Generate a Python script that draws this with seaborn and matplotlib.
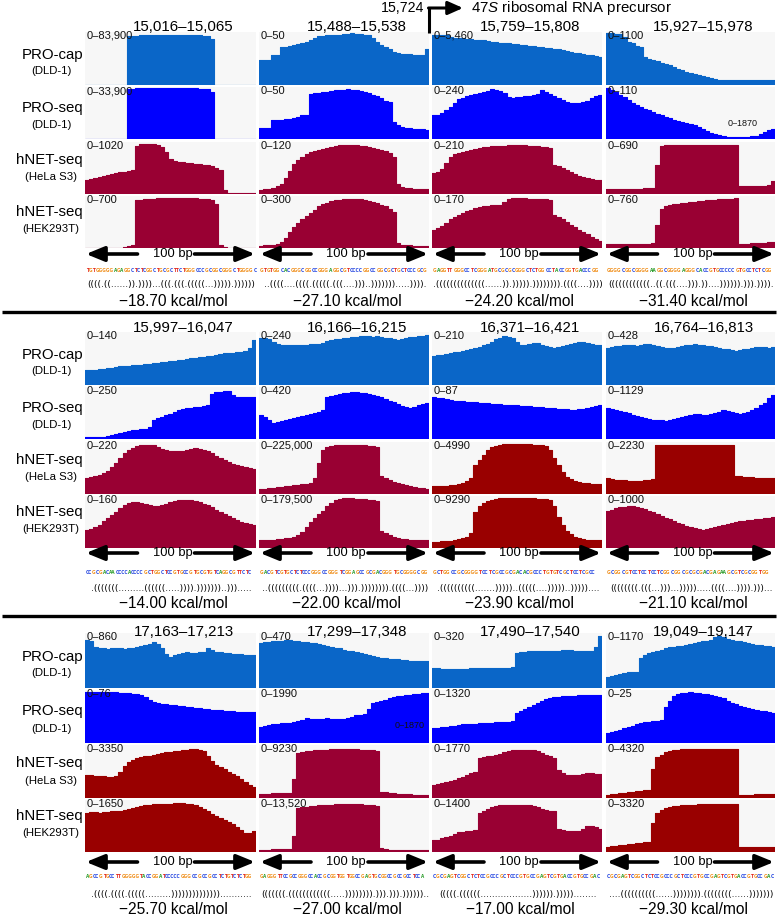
import itertools
import numpy as np
import pandas as pd
import matplotlib
matplotlib.use("Agg")
import matplotlib.pyplot as plt
from matplotlib import font_manager as fm
import seaborn as sns

# ---------------- data (normalised coverage, 41 bins per window) ----------------
P1C1_CAP = [0,0,0,0,0,0,0,0,0,0,.92,.93,.93,.94,.94,.94,.94,.95,.95,.95,.95,.95,.95,.95,.95,.95,.94,.94,.93,.92,.86,0,0,0,0,0,0,0,0,0,0]
P1C1_SEQ = [0,0,0,0,0,0,0,0,0,0,.96,.97,.98,.98,.98,.98,.98,.98,.98,.98,.98,.98,.98,.98,.98,.98,.98,.97,.97,.96,.90,0,0,0,0,0,0,0,0,0,0]
P1C1_HELA = [.26,.28,.30,.32,.34,.36,.38,.40,.42,.43,.44,.46,.93,.96,.96,.96,.96,.95,.90,.80,.68,.64,.62,.61,.60,.59,.58,.57,.56,.55,.53,.50,.46,.08,.02,.02,.02,.02,.02,.02,.02]
P1C1_HEK = [0,0,0,0,0,0,0,0,0,.01,.03,.06,.92,.93,.94,.95,.95,.96,.96,.96,.96,.96,.96,.96,.96,.96,.96,.95,.95,.94,.92,.85,.05,.01,0,0,0,0,0,0,0]

P1C2_CAP = [.47,.47,.47,.57,.57,.72,.72,.74,.76,.78,.80,.82,.85,.88,.92,.93,.94,.94,.95,.95,.96,.97,.98,.97,.96,.95,.94,.88,.81,.76,.72,.68,.62,.60,.59,.58,.58,.57,.57,.56,.68]
P1C2_SEQ = [.22,.22,.22,.36,.37,.37,.38,.38,.40,.42,.46,.47,.86,.88,.89,.90,.91,.92,.94,.95,.95,.96,.95,.94,.93,.91,.88,.85,.82,.78,.74,.72,.32,.27,.24,.22,.21,.20,.19,.19,.18]
P1C2_HELA = [.08,.09,.10,.12,.15,.20,.30,.45,.58,.65,.72,.76,.80,.82,.85,.87,.89,.91,.92,.94,.95,.95,.95,.94,.93,.92,.90,.88,.86,.84,.82,.78,.72,.20,.14,.12,.11,.10,.10,.09,.09]
P1C2_HEK = [.04,.05,.05,.06,.08,.12,.20,.30,.40,.48,.55,.62,.68,.74,.80,.84,.87,.90,.92,.93,.94,.95,.95,.95,.94,.93,.91,.89,.86,.83,.80,.75,.70,.10,.06,.05,.05,.04,.04,.04,.04]

P1C3_CAP = [.94,.94,.94,.94,.90,.89,.88,.88,.87,.86,.85,.84,.84,.83,.82,.81,.80,.80,.79,.78,.77,.76,.75,.74,.73,.72,.71,.70,.69,.68,.67,.66,.64,.63,.61,.60,.58,.57,.56,.55,.53]
P1C3_SEQ = [.46,.47,.50,.55,.62,.70,.76,.79,.82,.84,.86,.88,.90,.93,.96,.94,.92,.88,.80,.79,.80,.81,.82,.83,.84,.86,.94,.90,.86,.82,.78,.75,.72,.70,.69,.70,.72,.74,.78,.82,.85]
P1C3_HELA = [.40,.42,.48,.60,.72,.76,.78,.80,.82,.85,.87,.88,.90,.91,.92,.92,.93,.93,.94,.95,.95,.94,.94,.93,.92,.92,.91,.90,.88,.56,.54,.50,.46,.42,.38,.35,.33,.31,.29,.27,.26]
P1C3_HEK = [.35,.38,.42,.48,.55,.60,.64,.68,.71,.74,.76,.78,.80,.81,.82,.83,.82,.88,.94,.96,.96,.96,.96,.95,.95,.95,.94,.94,.93,.63,.60,.55,.50,.45,.40,.35,.30,.26,.22,.18,.14]

P1C4_CAP = [.98,.98,.97,.97,.90,.81,.80,.74,.72,.52,.50,.48,.45,.42,.40,.37,.34,.31,.28,.25,.23,.21,.19,.17,.15,.13,.11,.10,.10,.09,.09,.09,.09,.09,.09,.09,.09,.09,.09,.09,.09]
P1C4_SEQ = [.98,.95,.90,.85,.80,.75,.70,.66,.62,.58,.55,.52,.49,.46,.43,.40,.37,.34,.32,.30,.28,.26,.23,.20,.16,.12,.09,.07,.05,.04,.04,.04,.04,.04,.04,.05,.06,.10,.14,.18,.20]
P1C4_HELA = [.10,.10,.10,.10,.10,.10,.10,.10,.10,.11,.12,.12,.55,.93,.94,.95,.95,.95,.95,.95,.95,.95,.95,.95,.95,.95,.95,.95,.95,.95,.95,.95,.16,.15,.15,.15,.15,.15,.16,.18,.25]
P1C4_HEK = [.08,.08,.08,.08,.08,.08,.08,.08,.08,.08,.08,.09,.45,.75,.80,.82,.84,.85,.86,.87,.88,.89,.90,.91,.92,.93,.93,.94,.94,.95,.95,.96,.08,.08,.08,.09,.09,.10,.10,.11,.12]

P2C1_CAP = [.28,.28,.29,.30,.31,.32,.33,.34,.35,.35,.36,.37,.37,.38,.39,.40,.41,.42,.43,.44,.45,.46,.47,.48,.49,.50,.51,.52,.53,.54,.55,.56,.58,.60,.61,.61,.62,.63,.64,.70,.85]
P2C1_SEQ = [.03,.03,.03,.03,.03,.05,.07,.09,.11,.13,.15,.17,.18,.19,.20,.24,.37,.40,.43,.46,.49,.52,.55,.57,.59,.60,.61,.62,.63,.65,.86,.90,.91,.92,.92,.85,.80,.80,.80,.80,.80]
P2C1_HELA = [.30,.32,.34,.36,.40,.45,.52,.60,.70,.78,.84,.88,.92,.94,.95,.95,.94,.90,.86,.84,.83,.82,.82,.83,.85,.87,.88,.87,.85,.82,.78,.74,.70,.66,.62,.58,.55,.53,.51,.50,.48]
P2C1_HEK = [.35,.37,.40,.45,.52,.58,.64,.70,.76,.82,.86,.88,.88,.86,.84,.82,.80,.80,.82,.85,.88,.90,.92,.93,.93,.92,.90,.88,.85,.82,.78,.74,.70,.66,.62,.58,.54,.50,.48,.46,.45]

P2C2_CAP = [.89,.88,.86,.82,.78,.76,.75,.75,.75,.76,.76,.76,.77,.77,.77,.80,.83,.85,.86,.87,.88,.89,.90,.91,.92,.93,.92,.91,.92,.90,.89,.88,.86,.85,.86,.88,.90,.91,.92,.93,.95]
P2C2_SEQ = [.46,.42,.36,.31,.32,.34,.36,.38,.40,.42,.44,.46,.48,.50,.52,.55,.80,.83,.85,.87,.88,.89,.90,.90,.89,.88,.86,.84,.82,.80,.77,.74,.71,.68,.64,.62,.60,.62,.65,.68,.70]
P2C2_HELA = [.10,.10,.11,.12,.13,.14,.15,.16,.17,.18,.19,.20,.22,.30,.60,.85,.90,.93,.94,.95,.95,.95,.95,.95,.94,.94,.93,.92,.90,.35,.30,.27,.24,.21,.19,.17,.15,.13,.12,.11,.10]
P2C2_HEK = [.15,.15,.16,.16,.17,.18,.19,.20,.22,.25,.30,.40,.50,.58,.65,.72,.80,.87,.92,.95,.96,.96,.96,.95,.95,.94,.93,.92,.90,.32,.28,.25,.22,.20,.18,.17,.16,.15,.15,.15,.15]

P2C3_CAP = [.55,.56,.57,.58,.60,.62,.63,.64,.66,.68,.70,.72,.75,.78,.82,.86,.89,.92,.90,.88,.82,.76,.75,.78,.80,.79,.76,.74,.72,.70,.71,.73,.75,.78,.80,.82,.82,.80,.78,.76,.75]
P2C3_SEQ = [.80,.79,.78,.76,.75,.74,.74,.73,.72,.72,.71,.70,.70,.69,.68,.68,.67,.66,.66,.65,.65,.64,.64,.63,.62,.62,.61,.60,.60,.59,.58,.58,.57,.56,.56,.57,.58,.60,.62,.64,.66]
P2C3_HELA = [.15,.15,.16,.16,.17,.18,.20,.22,.25,.30,.55,.65,.75,.85,.90,.93,.95,.96,.96,.96,.96,.96,.96,.96,.95,.95,.94,.93,.85,.70,.55,.42,.32,.28,.25,.23,.22,.21,.20,.20,.20]
P2C3_HEK = [.12,.12,.13,.13,.14,.15,.17,.19,.22,.28,.70,.80,.86,.90,.93,.95,.96,.96,.96,.96,.96,.96,.96,.96,.96,.95,.95,.94,.92,.80,.60,.45,.32,.26,.22,.19,.17,.16,.15,.15,.15]

P2C4_CAP = [.70,.72,.73,.74,.75,.76,.75,.74,.76,.78,.77,.75,.73,.72,.70,.69,.70,.72,.74,.75,.76,.77,.76,.75,.74,.73,.72,.70,.68,.67,.66,.65,.66,.67,.68,.70,.71,.72,.71,.70,.72]
P2C4_SEQ = [.60,.58,.56,.54,.52,.50,.47,.45,.42,.40,.38,.37,.36,.36,.35,.36,.38,.40,.42,.44,.46,.48,.48,.47,.46,.48,.50,.52,.55,.54,.52,.50,.49,.50,.52,.56,.60,.65,.70,.78,.85]
P2C4_HELA = [.30,.28,.27,.26,.26,.25,.25,.25,.25,.26,.27,.28,.95,.95,.95,.95,.95,.95,.95,.95,.95,.95,.95,.95,.95,.95,.95,.95,.95,.95,.95,.35,.34,.33,.32,.32,.31,.31,.30,.30,.30]
P2C4_HEK = [.72,.74,.76,.78,.79,.80,.80,.79,.77,.75,.72,.69,.66,.62,.58,.55,.52,.49,.46,.43,.40,.38,.36,.35,.36,.38,.40,.42,.44,.46,.48,.50,.51,.52,.53,.54,.55,.56,.57,.58,.60]

P3C1_CAP = [.88,.86,.74,.72,.72,.71,.72,.73,.72,.71,.72,.73,.75,.76,.78,.80,.84,.80,.72,.62,.57,.60,.62,.64,.65,.64,.64,.65,.66,.72,.70,.66,.65,.64,.63,.62,.62,.61,.60,.60,.60]
P3C1_SEQ = [.97,.97,.97,.97,.96,.96,.96,.96,.95,.95,.94,.93,.92,.90,.86,.82,.78,.75,.74,.73,.72,.71,.70,.69,.68,.67,.66,.66,.65,.64,.63,.62,.62,.61,.60,.60,.59,.59,.58,.58,.58]
P3C1_HELA = [.43,.43,.42,.42,.41,.40,.40,.42,.50,.60,.68,.72,.75,.77,.79,.80,.81,.83,.85,.86,.87,.88,.89,.90,.91,.92,.92,.91,.88,.80,.70,.62,.58,.55,.50,.46,.42,.36,.30,.25,.21]
P3C1_HEK = [.75,.76,.76,.75,.76,.77,.78,.78,.79,.80,.82,.84,.86,.88,.90,.91,.92,.92,.93,.93,.93,.94,.94,.94,.93,.92,.90,.86,.82,.78,.74,.70,.66,.62,.58,.54,.48,.42,.37,.36,.40]

P3C2_CAP = [.82,.83,.84,.85,.86,.86,.87,.87,.86,.85,.84,.83,.82,.81,.80,.78,.76,.74,.73,.72,.70,.68,.67,.66,.64,.62,.60,.58,.56,.55,.54,.53,.52,.52,.51,.51,.50,.50,.50,.50,.50]
P3C2_SEQ = [.30,.32,.34,.35,.36,.37,.38,.38,.40,.42,.44,.47,.46,.46,.45,.46,.47,.46,.45,.45,.46,.48,.50,.52,.53,.55,.65,.75,.78,.80,.82,.85,.86,.88,.89,.90,.91,.92,.93,.94,.95]
P3C2_HELA = [.08,.08,.08,.09,.09,.10,.10,.10,.35,.85,.86,.88,.89,.90,.90,.91,.91,.92,.92,.92,.92,.92,.92,.92,.91,.91,.90,.90,.88,.12,.11,.10,.09,.08,.08,.07,.07,.06,.06,.05,.05]
P3C2_HEK = [.04,.04,.04,.05,.05,.05,.05,.06,.30,.84,.86,.87,.88,.89,.90,.90,.91,.91,.92,.92,.92,.92,.92,.92,.92,.91,.91,.90,.88,.08,.05,.04,.04,.04,.04,.03,.03,.03,.03,.03,.03]

P3C3_CAP = [.36,.36,.35,.35,.35,.35,.35,.35,.35,.36,.36,.36,.36,.36,.36,.36,.37,.37,.37,.38,.64,.66,.66,.67,.67,.67,.68,.68,.68,.68,.68,.69,.69,.69,.68,.68,.68,.68,.68,.75,.95]
P3C3_SEQ = [.28,.29,.30,.31,.32,.33,.34,.35,.35,.36,.36,.37,.37,.38,.38,.39,.39,.40,.40,.41,.57,.60,.65,.68,.72,.76,.80,.83,.85,.86,.87,.88,.88,.89,.89,.90,.90,.90,.91,.91,.91]
P3C3_HELA = [.25,.27,.28,.30,.32,.34,.38,.40,.44,.48,.50,.76,.78,.79,.80,.81,.83,.86,.89,.91,.91,.91,.91,.90,.90,.88,.84,.81,.79,.75,.53,.48,.44,.43,.43,.44,.46,.47,.47,.46,.45]
P3C3_HEK = [.23,.24,.26,.28,.30,.34,.38,.39,.40,.41,.42,.75,.78,.82,.86,.89,.90,.91,.91,.91,.91,.91,.90,.90,.89,.86,.82,.80,.79,.78,.45,.42,.41,.40,.40,.41,.45,.50,.50,.48,.45]

P3C4_CAP = [.20,.22,.24,.26,.28,.29,.30,.30,.55,.60,.63,.66,.68,.70,.72,.74,.75,.76,.77,.79,.80,.82,.84,.85,.86,.88,.92,.95,.93,.90,.88,.86,.85,.83,.82,.80,.79,.78,.77,.76,.75]
P3C4_SEQ = [.19,.20,.22,.24,.28,.30,.32,.35,.38,.39,.40,.41,.42,.43,.68,.80,.88,.92,.94,.95,.96,.95,.94,.93,.92,.90,.88,.86,.84,.80,.76,.73,.70,.68,.66,.64,.62,.61,.60,.58,.57]
P3C4_HELA = [.06,.07,.08,.09,.10,.11,.12,.13,.14,.15,.15,.55,.78,.82,.86,.88,.90,.91,.92,.92,.92,.92,.92,.93,.93,.93,.93,.93,.93,.93,.93,.93,.06,.06,.06,.06,.07,.07,.07,.07,.08]
P3C4_HEK = [.10,.11,.12,.13,.14,.15,.16,.17,.18,.19,.20,.56,.75,.80,.84,.87,.88,.89,.90,.90,.91,.91,.92,.92,.92,.92,.92,.92,.92,.92,.92,.92,.10,.10,.10,.10,.10,.10,.10,.10,.10]

TITLES_P1 = ["15,016–15,065", "15,488–15,538", "15,759–15,808", "15,927–15,978"]
TITLES_P2 = ["15,997–16,047", "16,166–16,215", "16,371–16,421", "16,764–16,813"]
TITLES_P3 = ["17,163–17,213", "17,299–17,348", "17,490–17,540", "19,049–19,147"]

RANGES_P1 = [["0–83,900", "0–33,900", "0–1020", "0–700"], ["0–50", "0–50", "0–120", "0–300"],
             ["0–5,460", "0–240", "0–210", "0–170"], ["0–1100", "0–110", "0–690", "0–760"]]
RANGES_P2 = [["0–140", "0–250", "0–220", "0–160"], ["0–240", "0–420", "0–225,000", "0–179,500"],
             ["0–210", "0–87", "0–4990", "0–9290"], ["0–428", "0–1129", "0–2230", "0–1000"]]
RANGES_P3 = [["0–860", "0–76", "0–3350", "0–1650"], ["0–470", "0–1990", "0–9230", "0–13,520"],
             ["0–320", "0–1320", "0–1770", "0–1400"], ["0–1170", "0–25", "0–4320", "0–3320"]]

ENERGY_P1 = [-18.70, -27.10, -24.20, -31.40]
ENERGY_P2 = [-14.00, -22.00, -23.90, -21.10]
ENERGY_P3 = [-25.70, -27.00, -17.00, -29.30]

SEQS_P1 = ["TGTGGGGGAGAGGCTCTCGGCTGCGCTTCTGGGCCCGCGGCGGGCTGGGGC",
           "GTGTGGCACGGGCGGCCGGGAGGCGTCCCCGGCCGGCGCTGCTCCCGCG",
           "GAGGTTGGGCCTCGGGATGCGCGCGGGCTCTGGCCTACCGGTGACCCGG",
           "GGGGCGGCGGGGAAGGCGGGGAGGGCACCGTGCCCCCGTGCCTCTCGG"]
SEQS_P2 = ["CCGCGACAACCCCACCCCGCTGGCTCCGTGCCGTGCGTGTCAGGCGTTCTC",
           "GACGTCGTGCTCTCCCGGGCCGGGTCGGAGCCGCGACGGGTGCGGGGCGG",
           "GCTGGCCGCGGGGTCCTCGCCGCGACACGCCCTGTGTCGCTCCTCGCC",
           "GCGGCGTCCTCCTCCTCGGCGGCGCGCGACGAGAAGCGTCGCGGTGG"]
SEQS_P3 = ["AGCCGTGCCTTGGGGGTACCGGATCCCCCGGGCCGCCGCCTCTGTCTCTGG",
           "GAGGGTTCCGCCGGGCCACCGCGGTGGTGGCCGAGTGCGGCCGCCGCCTCCA",
           "CGCGAGTCGGCTCTCCGCCCGCTCCCGTGCCGAGTCGTGACCGTGCCGAC",
           "CGCGAGTCGGCTCTCCGCCCGCTCCCGTGCCGAGTCGTGACCGTGCCGAC"]

STRUCT_P1 = ["((((.((......)).))))...(((.(((.(((((...))))).))))))",
             "..((((....((((.(((((.(((....)))..))))))).....)))).",
             ".((((((((((((((......)).))))).)))))))).((((....))))",
             "((((((((((((..((.(((....))).))....)))))).))).))))."]
STRUCT_P2 = [".(((((((.........((((((.....)))).)))))))..))).....",
             "..(((((((((.((((...))))...))).)))))))).((((...))))",
             ".((((((((((.......)))))..(((((....)))))..)))))....",
             "((((((((.(((...)))...))))).....((((....)))).)))..."]
STRUCT_P3 = [".((((.((((.(((((.........))))))))))))))...........",
             "(((((((.((((((((((((.....)))))))).))).))).))))))..",
             "(((((.((((((..................)))))).)))))........",
             "....((((((((((......)))))))).((((((((......)))))))"]

ROW_LABELS = ["PRO-cap", "PRO-seq", "hNET-seq", "hNET-seq"]
ROW_SUBLABELS = ["(DLD-1)", "(DLD-1)", "(HeLa S3)", "(HEK293T)"]

# ---------------- styling ----------------
CAP_C = "#0A66C8"
SEQ_C = "#0000FF"
MAROON = "#990033"
DKRED = "#990000"
BG = "#F7F7F7"
BASE_COL = {"A": "#2E9E2E", "C": "#2445E0", "G": "#F0901E", "T": "#E3261C"}

HNET_COLORS = [
    [(MAROON, MAROON), (MAROON, MAROON), (MAROON, MAROON), (MAROON, MAROON)],
    [(MAROON, MAROON), (MAROON, MAROON), (DKRED, DKRED), (DKRED, MAROON)],
    [(DKRED, DKRED), (MAROON, MAROON), (MAROON, MAROON), (DKRED, DKRED)],
]

W, H = 778, 917
sns.set_theme(style="white")
plt.rcParams["font.family"] = ["Liberation Sans", "DejaVu Sans"]
plt.rcParams["mathtext.fontset"] = "custom"
plt.rcParams["mathtext.rm"] = "Liberation Sans"
plt.rcParams["mathtext.it"] = "Liberation Sans:italic"


def pick_narrow_font():
    """Prefer an installed narrow / condensed bold face for the tiny base letters."""
    cands = []
    for f in fm.fontManager.ttflist:
        narrow = ("Narrow" in f.name) or ("Condensed" in f.name) or \
                 (str(f.stretch) in ("condensed", "semi-condensed", "extra-condensed", "ultra-condensed"))
        if narrow:
            score = (0 if "Liberation" in f.name else 1, 0 if f.weight in ("bold", 700) else 1)
            cands.append((score, f.fname))
    if cands:
        cands.sort()
        return fm.FontProperties(fname=cands[0][1])
    return fm.FontProperties(family="Liberation Sans", weight="bold")


SEQ_FP = pick_narrow_font()

fig = plt.figure(figsize=(W / 100, H / 100), dpi=100)
fig.patch.set_facecolor("white")

COLS = [(85, 256), (259, 429), (432, 602), (606, 775)]
PANELS = [
    dict(tracks=[(32, 85), (87, 139), (142, 194), (196, 248)], title_y=27, arrow_y=254, seq_y=270, struct_y=285, kcal_y=301,
         titles=TITLES_P1, ranges=RANGES_P1, energy=ENERGY_P1, seqs=SEQS_P1, structs=STRUCT_P1,
         data=[[P1C1_CAP, P1C1_SEQ, P1C1_HELA, P1C1_HEK], [P1C2_CAP, P1C2_SEQ, P1C2_HELA, P1C2_HEK],
               [P1C3_CAP, P1C3_SEQ, P1C3_HELA, P1C3_HEK], [P1C4_CAP, P1C4_SEQ, P1C4_HELA, P1C4_HEK]]),
    dict(tracks=[(332, 385), (387, 439), (442, 494), (496, 548)], title_y=328, arrow_y=553, seq_y=572, struct_y=589, kcal_y=604,
         titles=TITLES_P2, ranges=RANGES_P2, energy=ENERGY_P2, seqs=SEQS_P2, structs=STRUCT_P2,
         data=[[P2C1_CAP, P2C1_SEQ, P2C1_HELA, P2C1_HEK], [P2C2_CAP, P2C2_SEQ, P2C2_HELA, P2C2_HEK],
               [P2C3_CAP, P2C3_SEQ, P2C3_HELA, P2C3_HEK], [P2C4_CAP, P2C4_SEQ, P2C4_HELA, P2C4_HEK]]),
    dict(tracks=[(633, 688), (690, 743), (745, 798), (800, 852)], title_y=632, arrow_y=862, seq_y=877, struct_y=895, kcal_y=910,
         titles=TITLES_P3, ranges=RANGES_P3, energy=ENERGY_P3, seqs=SEQS_P3, structs=STRUCT_P3,
         data=[[P3C1_CAP, P3C1_SEQ, P3C1_HELA, P3C1_HEK], [P3C2_CAP, P3C2_SEQ, P3C2_HELA, P3C2_HEK],
               [P3C3_CAP, P3C3_SEQ, P3C3_HELA, P3C3_HEK], [P3C4_CAP, P3C4_SEQ, P3C4_HELA, P3C4_HEK]]),
]
LABEL_OFFS = [(-4, 13), (-5, 12), (-8, 9), (-10, 7)]


def px_axes(x0, x1, y0, y1):
    return fig.add_axes([x0 / W, 1 - y1 / H, (x1 - x0) / W, (y1 - y0) / H])


def draw_track(ax, vals, color):
    n = len(vals)
    df = pd.DataFrame({"pos": np.arange(n + 1), "cov": list(vals) + [vals[-1]]})
    sns.lineplot(data=df, x="pos", y="cov", ax=ax, color=color, lw=0.8,
                 drawstyle="steps-post", estimator=None)
    ax.fill_between(df["pos"], 0, df["cov"], step="post", color=color, lw=0)
    ax.set_xlim(0, n)
    ax.set_ylim(0, 1.0)
    ax.set_facecolor(BG)
    ax.set_xticks([])
    ax.set_yticks([])
    ax.set_xlabel("")
    ax.set_ylabel("")
    for s in ax.spines.values():
        s.set_visible(False)


for pi, P in enumerate(PANELS):
    for ci, (x0, x1) in enumerate(COLS):
        colors = [CAP_C, SEQ_C, HNET_COLORS[pi][ci][0], HNET_COLORS[pi][ci][1]]
        for ri, (y0, y1) in enumerate(P["tracks"]):
            ax = px_axes(x0, x1, y0, y1)
            draw_track(ax, P["data"][ci][ri], colors[ri])

# ---------------- overlay for annotations ----------------
ov = fig.add_axes([0, 0, 1, 1], zorder=10)
ov.set_xlim(0, W)
ov.set_ylim(H, 0)
ov.axis("off")
ov.patch.set_alpha(0)
renderer = fig.canvas.get_renderer()


def draw_sequence(seq, x0, x1, y):
    """Lay out runs of identically coloured bases side by side so they fill x0..x1."""
    runs = ["".join(g) for _, g in itertools.groupby(seq)]
    fs0 = 6.0
    texts = [ov.text(0, y, r, fontproperties=SEQ_FP, ha="left", va="center", color=BASE_COL[r[0]])
             for r in runs]
    for t in texts:
        t.set_fontsize(fs0)
    total = sum(t.get_window_extent(renderer).width for t in texts)
    fs = fs0 * (x1 - x0) / total * 0.99
    for t in texts:
        t.set_fontsize(fs)
    x = x0
    for t in texts:
        t.set_x(x)
        x += t.get_window_extent(renderer).width


arrow_kw = dict(arrowstyle="-|>,head_length=1.1,head_width=0.45", lw=2.6, color="black",
                mutation_scale=10, shrinkA=0, shrinkB=0)

for pi, P in enumerate(PANELS):
    for ri, (y0, y1) in enumerate(P["tracks"]):
        yc = (y0 + y1) / 2
        o1, o2 = LABEL_OFFS[ri]
        ov.text(83, yc + o1, ROW_LABELS[ri], ha="right", va="center", fontsize=10.8, color="black")
        ov.text(51, yc + o2, ROW_SUBLABELS[ri], ha="center", va="center", fontsize=8.2, color="black")
    for ci, (x0, x1) in enumerate(COLS):
        cc = (x0 + x1) / 2
        ov.text(cc + 13, P["title_y"], P["titles"][ci], ha="center", va="center", fontsize=10.8, color="black")
        for ri, (y0, y1) in enumerate(P["tracks"]):
            ov.text(x0 + 2, y0 + 4, P["ranges"][ci][ri], ha="left", va="center", fontsize=8, color="#111111")
        ay = P["arrow_y"]
        ov.annotate("", xy=(x0 + 1, ay), xytext=(cc - 33, ay), arrowprops=arrow_kw)
        ov.annotate("", xy=(x1 - 1, ay), xytext=(cc + 24, ay), arrowprops=arrow_kw)
        ov.text(cc + 2, ay, "100 bp", ha="center", va="center", fontsize=9.3, color="black")
        draw_sequence(P["seqs"][ci], x0 + 1, x1 - 1, P["seq_y"])
        ov.text(cc + 1, P["struct_y"], P["structs"][ci], ha="center", va="center", fontsize=6.5,
                family=["DejaVu Sans"], color="black")
        e = P["energy"][ci]
        ov.text(cc + 3, P["kcal_y"], f"\u2212{abs(e):.2f} kcal/mol", ha="center", va="center",
                fontsize=11.2, color="black")

# extra small labels
ov.text(743, 124, "0–1870", ha="center", va="center", fontsize=6.5, color="#111111")
ov.text(410, 726, "0–1870", ha="center", va="center", fontsize=6.5, color="#111111")

# separators
for y in (312, 616):
    ov.plot([2, 776], [y, y], color="black", lw=2.4, solid_capstyle="butt")

# 47S precursor annotation
ov.text(424, 8, "15,724", ha="right", va="center", fontsize=10.2, color="black")
ov.plot([429.5, 429.5], [33, 8], color="black", lw=2.2, solid_capstyle="butt")
ov.annotate("", xy=(463, 8), xytext=(428.5, 8),
            arrowprops=dict(arrowstyle="-|>,head_length=0.9,head_width=0.4", lw=2.2, color="black",
                            mutation_scale=10, shrinkA=0, shrinkB=0))
ov.text(471, 8, r"47$\mathit{S}$ ribosomal RNA precursor", ha="left", va="center", fontsize=10.8, color="black")

fig.savefig("out.png", dpi=100, facecolor="white")
